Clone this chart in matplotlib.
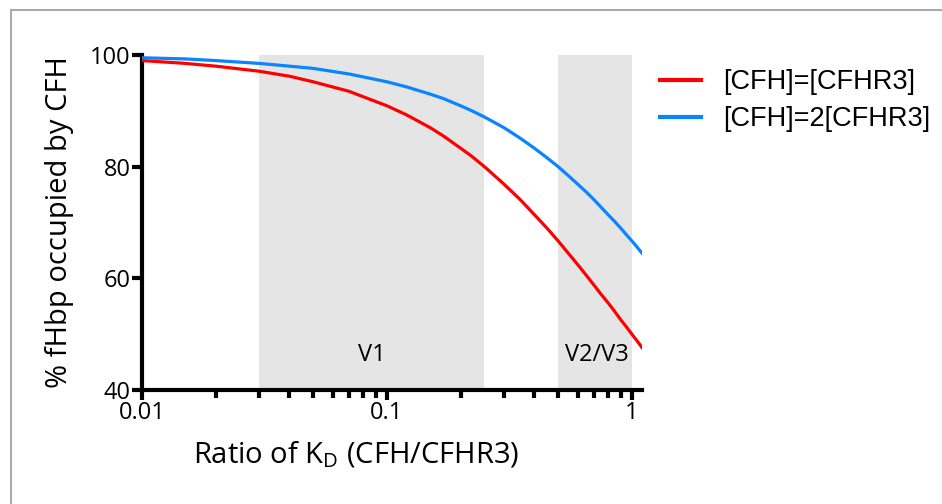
import numpy as np
import matplotlib.pyplot as plt
from matplotlib.lines import Line2D

# values
ratio = [0.01, 0.015, 0.02, 0.03, 0.04, 0.05, 0.07, 0.1, 0.12, 0.15, 0.17, 0.2,
         0.22, 0.25, 0.27, 0.3, 0.35, 0.4, 0.45, 0.5, 0.55, 0.6, 0.65, 0.7,
         0.75, 0.8, 0.85, 0.9, 0.95, 1.0, 1.05, 1.1]
equal_conc = [99.0, 98.5, 98.0, 97.1, 96.2, 95.2, 93.5, 90.9, 89.3, 87.0, 85.5, 83.3,
              82.0, 80.0, 78.7, 76.9, 74.1, 71.4, 69.0, 66.7, 64.5, 62.5, 60.6, 58.8,
              57.1, 55.6, 54.1, 52.6, 51.3, 50.0, 48.8, 47.6]
double_conc = [99.5, 99.3, 99.0, 98.5, 98.0, 97.6, 96.6, 95.2, 94.3, 93.0, 92.2, 90.9,
               90.1, 88.9, 88.1, 87.0, 85.1, 83.3, 81.6, 80.0, 78.4, 76.9, 75.5, 74.1,
               72.7, 71.4, 70.2, 69.0, 67.8, 66.7, 65.6, 64.5]
series_labels = ["[CFH]=[CFHR3]", "[CFH]=2[CFHR3]"]

# shaded variant ranges
regions = [(0.03, 0.25), (0.5, 1.0)]
region_labels = ["V1", "V2/V3"]
region_label_x = [0.087, 0.72]

plt.rcParams['font.family'] = ['Open Sans', 'DejaVu Sans']
plt.rcParams['mathtext.default'] = 'regular'

fig = plt.figure(figsize=(9.42, 5.04), dpi=100)
ax = fig.add_axes([142/942, 1-390/504, 500/942, 335/504])

for (lo, hi) in regions:
    ax.axvspan(lo, hi, ymin=0, ymax=1, color='#e5e5e5', lw=0, zorder=0)
for lab, xx in zip(region_labels, region_label_x):
    ax.text(xx, 46.2, lab, ha='center', va='center', fontsize=17)

ax.plot(ratio, equal_conc, color='#ff0000', lw=2.3, label=series_labels[0], zorder=3)
ax.plot(ratio, double_conc, color='#0a84ff', lw=2.3, label=series_labels[1], zorder=3)

ax.set_xscale('log')
ax.set_xlim(0.01, 1.1)
ax.set_ylim(40, 100)
ax.set_xticks([0.01, 0.1, 1])
ax.set_xticklabels(['0.01', '0.1', '1'])
ax.set_yticks([40, 60, 80, 100])

for s in ['top', 'right']:
    ax.spines[s].set_visible(False)
for s in ['left', 'bottom']:
    ax.spines[s].set_linewidth(3)
ax.tick_params(axis='both', which='major', length=7, width=3, labelsize=17, pad=1)
ax.tick_params(axis='x', which='minor', length=6, width=3)
ax.set_ylabel('% fHbp occupied by CFH', fontsize=21, labelpad=12)

fig.text(356/942, 1-455/504, 'Ratio of K$_D$ (CFH/CFHR3)', ha='center', va='center',
         fontsize=21)

leg = ax.legend(loc='upper left', bbox_to_anchor=(636/942, 1-45/504),
                bbox_transform=fig.transFigure, frameon=False,
                prop={'family': 'Liberation Sans', 'size': 19.5},
                handlelength=1.5, handletextpad=0.8, labelspacing=0.4)
for h in leg.get_lines():
    h.set_linewidth(3)

# grey frame lines on top and left
fig.add_artist(Line2D([11/942, 1], [1-10/504, 1-10/504], color='#aaaaaa', lw=1.5))
fig.add_artist(Line2D([11/942, 11/942], [0, 1-10/504], color='#aaaaaa', lw=1.5))

plt.savefig('out.png', dpi=100)
